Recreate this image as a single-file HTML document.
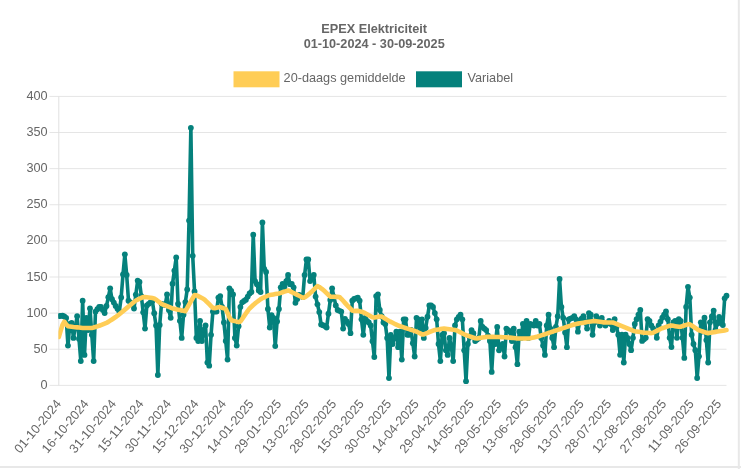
<!DOCTYPE html>
<html><head><meta charset="utf-8"><style>
html,body{margin:0;padding:0;background:#fff;}
svg{display:block;filter:blur(0.5px);font-family:"Liberation Sans",sans-serif;}
</style></head><body>
<svg width="741" height="469" viewBox="0 0 741 469">
<rect x="0" y="0" width="741" height="469" fill="#fff"/>
<line x1="0" y1="467" x2="741" y2="467" stroke="#e8e8e8" stroke-width="2"/>
<line x1="738.8" y1="0" x2="738.8" y2="469" stroke="#e8e8e8" stroke-width="2"/>
<g fill="#666" font-weight="bold" font-size="12.7" text-anchor="middle">
<text x="374.2" y="32.7">EPEX Elektriciteit</text>
<text x="374.2" y="47.8">01-10-2024 - 30-09-2025</text>
</g>
<rect x="233.5" y="71.3" width="46" height="16" fill="#ffcd56"/>
<rect x="416" y="71.3" width="46" height="16" fill="#05817c"/>
<g fill="#666" font-size="12.7">
<text x="283.6" y="82.0">20-daags gemiddelde</text>
<text x="467.5" y="82.0">Variabel</text>
</g>
<line x1="49.5" y1="96.40" x2="726.5" y2="96.40" stroke="#e5e5e5" stroke-width="1"/><line x1="49.5" y1="132.52" x2="726.5" y2="132.52" stroke="#e5e5e5" stroke-width="1"/><line x1="49.5" y1="168.64" x2="726.5" y2="168.64" stroke="#e5e5e5" stroke-width="1"/><line x1="49.5" y1="204.76" x2="726.5" y2="204.76" stroke="#e5e5e5" stroke-width="1"/><line x1="49.5" y1="240.88" x2="726.5" y2="240.88" stroke="#e5e5e5" stroke-width="1"/><line x1="49.5" y1="277.00" x2="726.5" y2="277.00" stroke="#e5e5e5" stroke-width="1"/><line x1="49.5" y1="313.12" x2="726.5" y2="313.12" stroke="#e5e5e5" stroke-width="1"/><line x1="49.5" y1="349.24" x2="726.5" y2="349.24" stroke="#e5e5e5" stroke-width="1"/><line x1="49.5" y1="385.36" x2="726.5" y2="385.36" stroke="#e5e5e5" stroke-width="1"/>
<line x1="58.8" y1="96.4" x2="58.8" y2="385.36" stroke="#e0e0e0" stroke-width="1"/>
<g fill="#666" font-size="12.7">
<text x="47.6" y="99.90" text-anchor="end">400</text><text x="47.6" y="136.02" text-anchor="end">350</text><text x="47.6" y="172.14" text-anchor="end">300</text><text x="47.6" y="208.26" text-anchor="end">250</text><text x="47.6" y="244.38" text-anchor="end">200</text><text x="47.6" y="280.50" text-anchor="end">150</text><text x="47.6" y="316.62" text-anchor="end">100</text><text x="47.6" y="352.74" text-anchor="end">50</text><text x="47.6" y="388.86" text-anchor="end">0</text>
<text transform="translate(61.80,404.20) rotate(-50)" text-anchor="end">01-10-2024</text><text transform="translate(89.32,404.20) rotate(-50)" text-anchor="end">16-10-2024</text><text transform="translate(116.83,404.20) rotate(-50)" text-anchor="end">31-10-2024</text><text transform="translate(144.35,404.20) rotate(-50)" text-anchor="end">15-11-2024</text><text transform="translate(171.86,404.20) rotate(-50)" text-anchor="end">30-11-2024</text><text transform="translate(199.38,404.20) rotate(-50)" text-anchor="end">15-12-2024</text><text transform="translate(226.89,404.20) rotate(-50)" text-anchor="end">30-12-2024</text><text transform="translate(254.41,404.20) rotate(-50)" text-anchor="end">14-01-2025</text><text transform="translate(281.92,404.20) rotate(-50)" text-anchor="end">29-01-2025</text><text transform="translate(309.44,404.20) rotate(-50)" text-anchor="end">13-02-2025</text><text transform="translate(336.95,404.20) rotate(-50)" text-anchor="end">28-02-2025</text><text transform="translate(364.47,404.20) rotate(-50)" text-anchor="end">15-03-2025</text><text transform="translate(391.98,404.20) rotate(-50)" text-anchor="end">30-03-2025</text><text transform="translate(419.50,404.20) rotate(-50)" text-anchor="end">14-04-2025</text><text transform="translate(447.01,404.20) rotate(-50)" text-anchor="end">29-04-2025</text><text transform="translate(474.53,404.20) rotate(-50)" text-anchor="end">14-05-2025</text><text transform="translate(502.04,404.20) rotate(-50)" text-anchor="end">29-05-2025</text><text transform="translate(529.56,404.20) rotate(-50)" text-anchor="end">13-06-2025</text><text transform="translate(557.07,404.20) rotate(-50)" text-anchor="end">28-06-2025</text><text transform="translate(584.59,404.20) rotate(-50)" text-anchor="end">13-07-2025</text><text transform="translate(612.10,404.20) rotate(-50)" text-anchor="end">28-07-2025</text><text transform="translate(639.62,404.20) rotate(-50)" text-anchor="end">12-08-2025</text><text transform="translate(667.13,404.20) rotate(-50)" text-anchor="end">27-08-2025</text><text transform="translate(694.65,404.20) rotate(-50)" text-anchor="end">11-09-2025</text><text transform="translate(722.16,404.20) rotate(-50)" text-anchor="end">26-09-2025</text>
</g>
<defs><clipPath id="ca"><rect x="58.4" y="0" width="700" height="469"/></clipPath></defs>
<g clip-path="url(#ca)">
<path d="M58.80 316.20 L60.63 315.90 L62.47 315.60 L64.30 316.50 L66.14 318.00 L67.97 345.60 L69.81 324.00 L71.64 323.00 L73.47 337.90 L75.31 327.05 L77.14 316.20 L78.98 338.65 L80.81 361.10 L82.65 300.70 L84.48 354.90 L86.32 317.80 L88.15 330.00 L89.98 308.50 L91.82 334.80 L93.65 361.10 L95.49 311.60 L97.32 309.25 L99.16 306.90 L100.99 306.90 L102.82 310.00 L104.66 313.10 L106.49 306.00 L108.33 297.15 L110.16 288.30 L112.00 299.20 L113.83 302.60 L115.66 306.00 L117.50 308.80 L119.33 311.60 L121.17 297.50 L123.00 274.40 L124.84 254.30 L126.67 275.00 L128.50 300.70 L130.34 302.35 L132.17 304.00 L134.01 308.50 L135.84 294.55 L137.68 280.60 L139.51 282.00 L141.35 296.10 L143.18 312.35 L145.01 328.60 L146.85 305.40 L148.68 303.85 L150.52 302.30 L152.35 301.00 L154.19 313.25 L156.02 325.50 L157.85 375.00 L159.69 325.00 L161.52 303.80 L163.36 304.40 L165.19 305.00 L167.03 294.50 L168.86 310.00 L170.69 317.80 L172.53 283.70 L174.36 270.55 L176.20 257.40 L178.03 303.80 L179.87 320.85 L181.70 337.90 L183.54 314.70 L185.37 302.05 L187.20 289.40 L189.04 220.60 L190.87 127.80 L192.71 255.80 L194.54 291.40 L196.38 337.90 L198.21 341.00 L200.04 320.90 L201.88 341.00 L203.71 330.00 L205.55 325.50 L207.38 362.60 L209.22 365.70 L211.05 334.80 L212.88 311.60 L214.72 311.60 L216.55 311.60 L218.39 297.60 L220.22 296.10 L222.06 307.00 L223.89 322.40 L225.73 341.00 L227.56 359.60 L229.39 288.30 L231.23 291.00 L233.06 294.50 L234.90 337.90 L236.73 345.60 L238.57 326.25 L240.40 306.90 L242.23 302.30 L244.07 301.00 L245.90 299.70 L247.74 296.60 L249.57 293.50 L251.41 292.00 L253.24 234.70 L255.07 281.10 L256.91 284.20 L258.74 290.40 L260.58 292.00 L262.41 222.40 L264.25 268.80 L266.08 271.90 L267.91 309.00 L269.75 327.50 L271.58 315.20 L273.42 318.00 L275.25 346.10 L277.09 321.40 L278.92 309.00 L280.76 287.30 L282.59 284.00 L284.42 287.00 L286.26 281.10 L288.09 275.00 L289.93 284.20 L291.76 284.00 L293.60 287.30 L295.43 302.80 L297.26 299.00 L299.10 295.00 L300.93 296.00 L302.77 297.00 L304.60 275.00 L306.44 259.50 L308.27 259.50 L310.10 281.10 L311.94 278.05 L313.77 275.00 L315.61 296.60 L317.44 304.35 L319.28 312.10 L321.11 324.40 L322.95 325.20 L324.78 326.00 L326.61 327.50 L328.45 313.75 L330.28 300.00 L332.12 288.30 L333.95 296.85 L335.79 305.40 L337.62 310.00 L339.45 310.80 L341.29 311.60 L343.12 328.60 L344.96 319.00 L346.79 321.50 L348.63 324.00 L350.46 333.20 L352.29 300.70 L354.13 299.00 L355.96 298.30 L357.80 297.60 L359.63 300.70 L361.47 319.30 L363.30 334.80 L365.13 317.80 L366.97 320.90 L368.80 322.40 L370.64 325.50 L372.47 341.25 L374.31 357.00 L376.14 296.10 L377.98 294.50 L379.81 310.00 L381.64 316.20 L383.48 322.40 L385.31 324.00 L387.15 337.90 L388.98 378.10 L390.82 334.80 L392.65 344.00 L394.48 337.85 L396.32 331.70 L398.15 347.20 L399.99 331.70 L401.82 359.60 L403.66 319.30 L405.49 319.30 L407.32 334.80 L409.16 334.80 L410.99 330.00 L412.83 343.25 L414.66 356.50 L416.50 317.80 L418.33 319.30 L420.17 331.70 L422.00 319.30 L423.83 337.90 L425.67 328.00 L427.50 316.70 L429.34 305.40 L431.17 305.40 L433.01 307.00 L434.84 313.10 L436.67 319.30 L438.51 344.00 L440.34 361.10 L442.18 334.80 L444.01 333.20 L445.85 350.30 L447.68 354.90 L449.51 337.90 L451.35 347.20 L453.18 361.10 L455.02 325.50 L456.85 319.30 L458.69 317.00 L460.52 314.70 L462.35 319.30 L464.19 350.30 L466.02 381.20 L467.86 344.00 L469.69 337.05 L471.53 330.10 L473.36 333.20 L475.20 341.00 L477.03 339.45 L478.86 337.90 L480.70 320.90 L482.53 327.00 L484.37 328.60 L486.20 330.10 L488.04 335.55 L489.87 341.00 L491.70 371.90 L493.54 341.00 L495.37 344.00 L497.21 327.00 L499.04 350.30 L500.88 347.15 L502.71 344.00 L504.54 356.50 L506.38 328.60 L508.21 330.15 L510.05 331.70 L511.88 341.00 L513.72 328.60 L515.55 347.20 L517.39 364.20 L519.22 331.70 L521.05 337.90 L522.89 324.00 L524.72 334.80 L526.56 320.90 L528.39 337.90 L530.23 324.00 L532.06 324.75 L533.89 325.50 L535.73 320.90 L537.56 325.50 L539.40 324.00 L541.23 337.90 L543.07 345.60 L544.90 354.90 L546.73 325.50 L548.57 314.70 L550.40 328.60 L552.24 337.90 L554.07 347.20 L555.91 327.00 L557.74 316.20 L559.58 279.00 L561.41 306.90 L563.24 317.80 L565.08 332.50 L566.91 347.20 L568.75 319.30 L570.58 318.55 L572.42 317.80 L574.25 316.20 L576.08 319.30 L577.92 331.70 L579.75 320.90 L581.59 318.55 L583.42 316.20 L585.26 322.40 L587.09 328.60 L588.92 313.10 L590.76 314.70 L592.59 334.80 L594.43 322.40 L596.26 316.20 L598.10 319.30 L599.93 325.50 L601.76 317.80 L603.60 322.40 L605.43 325.50 L607.27 323.20 L609.10 320.90 L610.94 324.00 L612.77 330.10 L614.61 319.20 L616.44 326.95 L618.27 334.70 L620.11 354.80 L621.94 334.70 L623.78 362.50 L625.61 334.70 L627.45 337.80 L629.28 344.00 L631.11 350.20 L632.95 337.80 L634.78 323.90 L636.62 319.20 L638.45 314.60 L640.29 310.00 L642.12 340.90 L643.95 339.35 L645.79 337.80 L647.62 319.20 L649.46 320.80 L651.29 325.40 L653.13 328.50 L654.96 331.60 L656.80 337.80 L658.63 325.40 L660.46 321.55 L662.30 317.70 L664.13 314.60 L665.97 311.50 L667.80 319.20 L669.64 337.80 L671.47 347.10 L673.30 322.30 L675.14 320.80 L676.97 337.80 L678.81 319.20 L680.64 320.80 L682.48 337.80 L684.31 357.90 L686.14 306.90 L687.98 286.80 L689.81 297.60 L691.65 334.70 L693.48 344.00 L695.32 350.20 L697.15 378.00 L698.98 356.30 L700.82 322.30 L702.65 331.60 L704.49 317.70 L706.32 340.10 L708.16 362.50 L709.99 322.30 L711.83 316.45 L713.66 310.60 L715.49 330.00 L717.33 323.50 L719.16 317.00 L721.00 323.00 L722.83 325.00 L724.67 298.30 L726.50 295.70" fill="none" stroke="#05817c" stroke-width="3.6" stroke-linejoin="round"/>
<g fill="#05817c"><circle cx="58.80" cy="316.20" r="2.9"/><circle cx="60.63" cy="315.90" r="2.9"/><circle cx="62.47" cy="315.60" r="2.9"/><circle cx="64.30" cy="316.50" r="2.9"/><circle cx="66.14" cy="318.00" r="2.9"/><circle cx="67.97" cy="345.60" r="2.9"/><circle cx="69.81" cy="324.00" r="2.9"/><circle cx="71.64" cy="323.00" r="2.9"/><circle cx="73.47" cy="337.90" r="2.9"/><circle cx="75.31" cy="327.05" r="2.9"/><circle cx="77.14" cy="316.20" r="2.9"/><circle cx="78.98" cy="338.65" r="2.9"/><circle cx="80.81" cy="361.10" r="2.9"/><circle cx="82.65" cy="300.70" r="2.9"/><circle cx="84.48" cy="354.90" r="2.9"/><circle cx="86.32" cy="317.80" r="2.9"/><circle cx="88.15" cy="330.00" r="2.9"/><circle cx="89.98" cy="308.50" r="2.9"/><circle cx="91.82" cy="334.80" r="2.9"/><circle cx="93.65" cy="361.10" r="2.9"/><circle cx="95.49" cy="311.60" r="2.9"/><circle cx="97.32" cy="309.25" r="2.9"/><circle cx="99.16" cy="306.90" r="2.9"/><circle cx="100.99" cy="306.90" r="2.9"/><circle cx="102.82" cy="310.00" r="2.9"/><circle cx="104.66" cy="313.10" r="2.9"/><circle cx="106.49" cy="306.00" r="2.9"/><circle cx="108.33" cy="297.15" r="2.9"/><circle cx="110.16" cy="288.30" r="2.9"/><circle cx="112.00" cy="299.20" r="2.9"/><circle cx="113.83" cy="302.60" r="2.9"/><circle cx="115.66" cy="306.00" r="2.9"/><circle cx="117.50" cy="308.80" r="2.9"/><circle cx="119.33" cy="311.60" r="2.9"/><circle cx="121.17" cy="297.50" r="2.9"/><circle cx="123.00" cy="274.40" r="2.9"/><circle cx="124.84" cy="254.30" r="2.9"/><circle cx="126.67" cy="275.00" r="2.9"/><circle cx="128.50" cy="300.70" r="2.9"/><circle cx="130.34" cy="302.35" r="2.9"/><circle cx="132.17" cy="304.00" r="2.9"/><circle cx="134.01" cy="308.50" r="2.9"/><circle cx="135.84" cy="294.55" r="2.9"/><circle cx="137.68" cy="280.60" r="2.9"/><circle cx="139.51" cy="282.00" r="2.9"/><circle cx="141.35" cy="296.10" r="2.9"/><circle cx="143.18" cy="312.35" r="2.9"/><circle cx="145.01" cy="328.60" r="2.9"/><circle cx="146.85" cy="305.40" r="2.9"/><circle cx="148.68" cy="303.85" r="2.9"/><circle cx="150.52" cy="302.30" r="2.9"/><circle cx="152.35" cy="301.00" r="2.9"/><circle cx="154.19" cy="313.25" r="2.9"/><circle cx="156.02" cy="325.50" r="2.9"/><circle cx="157.85" cy="375.00" r="2.9"/><circle cx="159.69" cy="325.00" r="2.9"/><circle cx="161.52" cy="303.80" r="2.9"/><circle cx="163.36" cy="304.40" r="2.9"/><circle cx="165.19" cy="305.00" r="2.9"/><circle cx="167.03" cy="294.50" r="2.9"/><circle cx="168.86" cy="310.00" r="2.9"/><circle cx="170.69" cy="317.80" r="2.9"/><circle cx="172.53" cy="283.70" r="2.9"/><circle cx="174.36" cy="270.55" r="2.9"/><circle cx="176.20" cy="257.40" r="2.9"/><circle cx="178.03" cy="303.80" r="2.9"/><circle cx="179.87" cy="320.85" r="2.9"/><circle cx="181.70" cy="337.90" r="2.9"/><circle cx="183.54" cy="314.70" r="2.9"/><circle cx="185.37" cy="302.05" r="2.9"/><circle cx="187.20" cy="289.40" r="2.9"/><circle cx="189.04" cy="220.60" r="2.9"/><circle cx="190.87" cy="127.80" r="2.9"/><circle cx="192.71" cy="255.80" r="2.9"/><circle cx="194.54" cy="291.40" r="2.9"/><circle cx="196.38" cy="337.90" r="2.9"/><circle cx="198.21" cy="341.00" r="2.9"/><circle cx="200.04" cy="320.90" r="2.9"/><circle cx="201.88" cy="341.00" r="2.9"/><circle cx="203.71" cy="330.00" r="2.9"/><circle cx="205.55" cy="325.50" r="2.9"/><circle cx="207.38" cy="362.60" r="2.9"/><circle cx="209.22" cy="365.70" r="2.9"/><circle cx="211.05" cy="334.80" r="2.9"/><circle cx="212.88" cy="311.60" r="2.9"/><circle cx="214.72" cy="311.60" r="2.9"/><circle cx="216.55" cy="311.60" r="2.9"/><circle cx="218.39" cy="297.60" r="2.9"/><circle cx="220.22" cy="296.10" r="2.9"/><circle cx="222.06" cy="307.00" r="2.9"/><circle cx="223.89" cy="322.40" r="2.9"/><circle cx="225.73" cy="341.00" r="2.9"/><circle cx="227.56" cy="359.60" r="2.9"/><circle cx="229.39" cy="288.30" r="2.9"/><circle cx="231.23" cy="291.00" r="2.9"/><circle cx="233.06" cy="294.50" r="2.9"/><circle cx="234.90" cy="337.90" r="2.9"/><circle cx="236.73" cy="345.60" r="2.9"/><circle cx="238.57" cy="326.25" r="2.9"/><circle cx="240.40" cy="306.90" r="2.9"/><circle cx="242.23" cy="302.30" r="2.9"/><circle cx="244.07" cy="301.00" r="2.9"/><circle cx="245.90" cy="299.70" r="2.9"/><circle cx="247.74" cy="296.60" r="2.9"/><circle cx="249.57" cy="293.50" r="2.9"/><circle cx="251.41" cy="292.00" r="2.9"/><circle cx="253.24" cy="234.70" r="2.9"/><circle cx="255.07" cy="281.10" r="2.9"/><circle cx="256.91" cy="284.20" r="2.9"/><circle cx="258.74" cy="290.40" r="2.9"/><circle cx="260.58" cy="292.00" r="2.9"/><circle cx="262.41" cy="222.40" r="2.9"/><circle cx="264.25" cy="268.80" r="2.9"/><circle cx="266.08" cy="271.90" r="2.9"/><circle cx="267.91" cy="309.00" r="2.9"/><circle cx="269.75" cy="327.50" r="2.9"/><circle cx="271.58" cy="315.20" r="2.9"/><circle cx="273.42" cy="318.00" r="2.9"/><circle cx="275.25" cy="346.10" r="2.9"/><circle cx="277.09" cy="321.40" r="2.9"/><circle cx="278.92" cy="309.00" r="2.9"/><circle cx="280.76" cy="287.30" r="2.9"/><circle cx="282.59" cy="284.00" r="2.9"/><circle cx="284.42" cy="287.00" r="2.9"/><circle cx="286.26" cy="281.10" r="2.9"/><circle cx="288.09" cy="275.00" r="2.9"/><circle cx="289.93" cy="284.20" r="2.9"/><circle cx="291.76" cy="284.00" r="2.9"/><circle cx="293.60" cy="287.30" r="2.9"/><circle cx="295.43" cy="302.80" r="2.9"/><circle cx="297.26" cy="299.00" r="2.9"/><circle cx="299.10" cy="295.00" r="2.9"/><circle cx="300.93" cy="296.00" r="2.9"/><circle cx="302.77" cy="297.00" r="2.9"/><circle cx="304.60" cy="275.00" r="2.9"/><circle cx="306.44" cy="259.50" r="2.9"/><circle cx="308.27" cy="259.50" r="2.9"/><circle cx="310.10" cy="281.10" r="2.9"/><circle cx="311.94" cy="278.05" r="2.9"/><circle cx="313.77" cy="275.00" r="2.9"/><circle cx="315.61" cy="296.60" r="2.9"/><circle cx="317.44" cy="304.35" r="2.9"/><circle cx="319.28" cy="312.10" r="2.9"/><circle cx="321.11" cy="324.40" r="2.9"/><circle cx="322.95" cy="325.20" r="2.9"/><circle cx="324.78" cy="326.00" r="2.9"/><circle cx="326.61" cy="327.50" r="2.9"/><circle cx="328.45" cy="313.75" r="2.9"/><circle cx="330.28" cy="300.00" r="2.9"/><circle cx="332.12" cy="288.30" r="2.9"/><circle cx="333.95" cy="296.85" r="2.9"/><circle cx="335.79" cy="305.40" r="2.9"/><circle cx="337.62" cy="310.00" r="2.9"/><circle cx="339.45" cy="310.80" r="2.9"/><circle cx="341.29" cy="311.60" r="2.9"/><circle cx="343.12" cy="328.60" r="2.9"/><circle cx="344.96" cy="319.00" r="2.9"/><circle cx="346.79" cy="321.50" r="2.9"/><circle cx="348.63" cy="324.00" r="2.9"/><circle cx="350.46" cy="333.20" r="2.9"/><circle cx="352.29" cy="300.70" r="2.9"/><circle cx="354.13" cy="299.00" r="2.9"/><circle cx="355.96" cy="298.30" r="2.9"/><circle cx="357.80" cy="297.60" r="2.9"/><circle cx="359.63" cy="300.70" r="2.9"/><circle cx="361.47" cy="319.30" r="2.9"/><circle cx="363.30" cy="334.80" r="2.9"/><circle cx="365.13" cy="317.80" r="2.9"/><circle cx="366.97" cy="320.90" r="2.9"/><circle cx="368.80" cy="322.40" r="2.9"/><circle cx="370.64" cy="325.50" r="2.9"/><circle cx="372.47" cy="341.25" r="2.9"/><circle cx="374.31" cy="357.00" r="2.9"/><circle cx="376.14" cy="296.10" r="2.9"/><circle cx="377.98" cy="294.50" r="2.9"/><circle cx="379.81" cy="310.00" r="2.9"/><circle cx="381.64" cy="316.20" r="2.9"/><circle cx="383.48" cy="322.40" r="2.9"/><circle cx="385.31" cy="324.00" r="2.9"/><circle cx="387.15" cy="337.90" r="2.9"/><circle cx="388.98" cy="378.10" r="2.9"/><circle cx="390.82" cy="334.80" r="2.9"/><circle cx="392.65" cy="344.00" r="2.9"/><circle cx="394.48" cy="337.85" r="2.9"/><circle cx="396.32" cy="331.70" r="2.9"/><circle cx="398.15" cy="347.20" r="2.9"/><circle cx="399.99" cy="331.70" r="2.9"/><circle cx="401.82" cy="359.60" r="2.9"/><circle cx="403.66" cy="319.30" r="2.9"/><circle cx="405.49" cy="319.30" r="2.9"/><circle cx="407.32" cy="334.80" r="2.9"/><circle cx="409.16" cy="334.80" r="2.9"/><circle cx="410.99" cy="330.00" r="2.9"/><circle cx="412.83" cy="343.25" r="2.9"/><circle cx="414.66" cy="356.50" r="2.9"/><circle cx="416.50" cy="317.80" r="2.9"/><circle cx="418.33" cy="319.30" r="2.9"/><circle cx="420.17" cy="331.70" r="2.9"/><circle cx="422.00" cy="319.30" r="2.9"/><circle cx="423.83" cy="337.90" r="2.9"/><circle cx="425.67" cy="328.00" r="2.9"/><circle cx="427.50" cy="316.70" r="2.9"/><circle cx="429.34" cy="305.40" r="2.9"/><circle cx="431.17" cy="305.40" r="2.9"/><circle cx="433.01" cy="307.00" r="2.9"/><circle cx="434.84" cy="313.10" r="2.9"/><circle cx="436.67" cy="319.30" r="2.9"/><circle cx="438.51" cy="344.00" r="2.9"/><circle cx="440.34" cy="361.10" r="2.9"/><circle cx="442.18" cy="334.80" r="2.9"/><circle cx="444.01" cy="333.20" r="2.9"/><circle cx="445.85" cy="350.30" r="2.9"/><circle cx="447.68" cy="354.90" r="2.9"/><circle cx="449.51" cy="337.90" r="2.9"/><circle cx="451.35" cy="347.20" r="2.9"/><circle cx="453.18" cy="361.10" r="2.9"/><circle cx="455.02" cy="325.50" r="2.9"/><circle cx="456.85" cy="319.30" r="2.9"/><circle cx="458.69" cy="317.00" r="2.9"/><circle cx="460.52" cy="314.70" r="2.9"/><circle cx="462.35" cy="319.30" r="2.9"/><circle cx="464.19" cy="350.30" r="2.9"/><circle cx="466.02" cy="381.20" r="2.9"/><circle cx="467.86" cy="344.00" r="2.9"/><circle cx="469.69" cy="337.05" r="2.9"/><circle cx="471.53" cy="330.10" r="2.9"/><circle cx="473.36" cy="333.20" r="2.9"/><circle cx="475.20" cy="341.00" r="2.9"/><circle cx="477.03" cy="339.45" r="2.9"/><circle cx="478.86" cy="337.90" r="2.9"/><circle cx="480.70" cy="320.90" r="2.9"/><circle cx="482.53" cy="327.00" r="2.9"/><circle cx="484.37" cy="328.60" r="2.9"/><circle cx="486.20" cy="330.10" r="2.9"/><circle cx="488.04" cy="335.55" r="2.9"/><circle cx="489.87" cy="341.00" r="2.9"/><circle cx="491.70" cy="371.90" r="2.9"/><circle cx="493.54" cy="341.00" r="2.9"/><circle cx="495.37" cy="344.00" r="2.9"/><circle cx="497.21" cy="327.00" r="2.9"/><circle cx="499.04" cy="350.30" r="2.9"/><circle cx="500.88" cy="347.15" r="2.9"/><circle cx="502.71" cy="344.00" r="2.9"/><circle cx="504.54" cy="356.50" r="2.9"/><circle cx="506.38" cy="328.60" r="2.9"/><circle cx="508.21" cy="330.15" r="2.9"/><circle cx="510.05" cy="331.70" r="2.9"/><circle cx="511.88" cy="341.00" r="2.9"/><circle cx="513.72" cy="328.60" r="2.9"/><circle cx="515.55" cy="347.20" r="2.9"/><circle cx="517.39" cy="364.20" r="2.9"/><circle cx="519.22" cy="331.70" r="2.9"/><circle cx="521.05" cy="337.90" r="2.9"/><circle cx="522.89" cy="324.00" r="2.9"/><circle cx="524.72" cy="334.80" r="2.9"/><circle cx="526.56" cy="320.90" r="2.9"/><circle cx="528.39" cy="337.90" r="2.9"/><circle cx="530.23" cy="324.00" r="2.9"/><circle cx="532.06" cy="324.75" r="2.9"/><circle cx="533.89" cy="325.50" r="2.9"/><circle cx="535.73" cy="320.90" r="2.9"/><circle cx="537.56" cy="325.50" r="2.9"/><circle cx="539.40" cy="324.00" r="2.9"/><circle cx="541.23" cy="337.90" r="2.9"/><circle cx="543.07" cy="345.60" r="2.9"/><circle cx="544.90" cy="354.90" r="2.9"/><circle cx="546.73" cy="325.50" r="2.9"/><circle cx="548.57" cy="314.70" r="2.9"/><circle cx="550.40" cy="328.60" r="2.9"/><circle cx="552.24" cy="337.90" r="2.9"/><circle cx="554.07" cy="347.20" r="2.9"/><circle cx="555.91" cy="327.00" r="2.9"/><circle cx="557.74" cy="316.20" r="2.9"/><circle cx="559.58" cy="279.00" r="2.9"/><circle cx="561.41" cy="306.90" r="2.9"/><circle cx="563.24" cy="317.80" r="2.9"/><circle cx="565.08" cy="332.50" r="2.9"/><circle cx="566.91" cy="347.20" r="2.9"/><circle cx="568.75" cy="319.30" r="2.9"/><circle cx="570.58" cy="318.55" r="2.9"/><circle cx="572.42" cy="317.80" r="2.9"/><circle cx="574.25" cy="316.20" r="2.9"/><circle cx="576.08" cy="319.30" r="2.9"/><circle cx="577.92" cy="331.70" r="2.9"/><circle cx="579.75" cy="320.90" r="2.9"/><circle cx="581.59" cy="318.55" r="2.9"/><circle cx="583.42" cy="316.20" r="2.9"/><circle cx="585.26" cy="322.40" r="2.9"/><circle cx="587.09" cy="328.60" r="2.9"/><circle cx="588.92" cy="313.10" r="2.9"/><circle cx="590.76" cy="314.70" r="2.9"/><circle cx="592.59" cy="334.80" r="2.9"/><circle cx="594.43" cy="322.40" r="2.9"/><circle cx="596.26" cy="316.20" r="2.9"/><circle cx="598.10" cy="319.30" r="2.9"/><circle cx="599.93" cy="325.50" r="2.9"/><circle cx="601.76" cy="317.80" r="2.9"/><circle cx="603.60" cy="322.40" r="2.9"/><circle cx="605.43" cy="325.50" r="2.9"/><circle cx="607.27" cy="323.20" r="2.9"/><circle cx="609.10" cy="320.90" r="2.9"/><circle cx="610.94" cy="324.00" r="2.9"/><circle cx="612.77" cy="330.10" r="2.9"/><circle cx="614.61" cy="319.20" r="2.9"/><circle cx="616.44" cy="326.95" r="2.9"/><circle cx="618.27" cy="334.70" r="2.9"/><circle cx="620.11" cy="354.80" r="2.9"/><circle cx="621.94" cy="334.70" r="2.9"/><circle cx="623.78" cy="362.50" r="2.9"/><circle cx="625.61" cy="334.70" r="2.9"/><circle cx="627.45" cy="337.80" r="2.9"/><circle cx="629.28" cy="344.00" r="2.9"/><circle cx="631.11" cy="350.20" r="2.9"/><circle cx="632.95" cy="337.80" r="2.9"/><circle cx="634.78" cy="323.90" r="2.9"/><circle cx="636.62" cy="319.20" r="2.9"/><circle cx="638.45" cy="314.60" r="2.9"/><circle cx="640.29" cy="310.00" r="2.9"/><circle cx="642.12" cy="340.90" r="2.9"/><circle cx="643.95" cy="339.35" r="2.9"/><circle cx="645.79" cy="337.80" r="2.9"/><circle cx="647.62" cy="319.20" r="2.9"/><circle cx="649.46" cy="320.80" r="2.9"/><circle cx="651.29" cy="325.40" r="2.9"/><circle cx="653.13" cy="328.50" r="2.9"/><circle cx="654.96" cy="331.60" r="2.9"/><circle cx="656.80" cy="337.80" r="2.9"/><circle cx="658.63" cy="325.40" r="2.9"/><circle cx="660.46" cy="321.55" r="2.9"/><circle cx="662.30" cy="317.70" r="2.9"/><circle cx="664.13" cy="314.60" r="2.9"/><circle cx="665.97" cy="311.50" r="2.9"/><circle cx="667.80" cy="319.20" r="2.9"/><circle cx="669.64" cy="337.80" r="2.9"/><circle cx="671.47" cy="347.10" r="2.9"/><circle cx="673.30" cy="322.30" r="2.9"/><circle cx="675.14" cy="320.80" r="2.9"/><circle cx="676.97" cy="337.80" r="2.9"/><circle cx="678.81" cy="319.20" r="2.9"/><circle cx="680.64" cy="320.80" r="2.9"/><circle cx="682.48" cy="337.80" r="2.9"/><circle cx="684.31" cy="357.90" r="2.9"/><circle cx="686.14" cy="306.90" r="2.9"/><circle cx="687.98" cy="286.80" r="2.9"/><circle cx="689.81" cy="297.60" r="2.9"/><circle cx="691.65" cy="334.70" r="2.9"/><circle cx="693.48" cy="344.00" r="2.9"/><circle cx="695.32" cy="350.20" r="2.9"/><circle cx="697.15" cy="378.00" r="2.9"/><circle cx="698.98" cy="356.30" r="2.9"/><circle cx="700.82" cy="322.30" r="2.9"/><circle cx="702.65" cy="331.60" r="2.9"/><circle cx="704.49" cy="317.70" r="2.9"/><circle cx="706.32" cy="340.10" r="2.9"/><circle cx="708.16" cy="362.50" r="2.9"/><circle cx="709.99" cy="322.30" r="2.9"/><circle cx="711.83" cy="316.45" r="2.9"/><circle cx="713.66" cy="310.60" r="2.9"/><circle cx="715.49" cy="330.00" r="2.9"/><circle cx="717.33" cy="323.50" r="2.9"/><circle cx="719.16" cy="317.00" r="2.9"/><circle cx="721.00" cy="323.00" r="2.9"/><circle cx="722.83" cy="325.00" r="2.9"/><circle cx="724.67" cy="298.30" r="2.9"/><circle cx="726.50" cy="295.70" r="2.9"/></g>
<path d="M58.80 336.97 L60.63 330.92 L62.47 324.86 L64.30 321.66 L66.14 324.29 L67.97 326.18 L69.81 326.45 L71.64 326.72 L73.47 326.98 L75.31 327.18 L77.14 327.38 L78.98 327.58 L80.81 327.78 L82.65 327.97 L84.48 328.00 L86.32 328.00 L88.15 328.00 L89.98 328.00 L91.82 328.00 L93.65 327.55 L95.49 326.98 L97.32 326.40 L99.16 325.76 L100.99 325.03 L102.82 324.30 L104.66 323.57 L106.49 322.84 L108.33 321.92 L110.16 320.69 L112.00 319.47 L113.83 318.25 L115.66 317.02 L117.50 315.70 L119.33 314.19 L121.17 312.67 L123.00 311.15 L124.84 309.63 L126.67 308.11 L128.50 306.57 L130.34 305.03 L132.17 303.49 L134.01 301.95 L135.84 300.54 L137.68 299.65 L139.51 298.77 L141.35 297.89 L143.18 297.01 L145.01 297.16 L146.85 297.32 L148.68 297.48 L150.52 297.70 L152.35 298.07 L154.19 298.44 L156.02 299.66 L157.85 301.05 L159.69 302.44 L161.52 303.84 L163.36 304.75 L165.19 305.49 L167.03 306.24 L168.86 306.98 L170.69 307.73 L172.53 308.47 L174.36 308.87 L176.20 309.26 L178.03 309.65 L179.87 310.03 L181.70 310.42 L183.54 310.81 L185.37 311.19 L187.20 307.95 L189.04 304.64 L190.87 301.37 L192.71 298.24 L194.54 295.11 L196.38 295.25 L198.21 296.17 L200.04 297.10 L201.88 298.03 L203.71 298.95 L205.55 300.55 L207.38 302.38 L209.22 304.22 L211.05 306.05 L212.88 307.88 L214.72 308.19 L216.55 307.71 L218.39 307.24 L220.22 307.08 L222.06 307.70 L223.89 308.32 L225.73 308.94 L227.56 312.97 L229.39 317.35 L231.23 320.19 L233.06 320.66 L234.90 321.13 L236.73 321.61 L238.57 322.08 L240.40 321.53 L242.23 318.85 L244.07 316.18 L245.90 313.51 L247.74 310.84 L249.57 308.46 L251.41 306.73 L253.24 305.00 L255.07 303.42 L256.91 302.03 L258.74 300.65 L260.58 299.27 L262.41 298.03 L264.25 297.27 L266.08 296.50 L267.91 295.74 L269.75 294.99 L271.58 294.70 L273.42 294.40 L275.25 294.10 L277.09 293.81 L278.92 293.51 L280.76 292.91 L282.59 292.30 L284.42 291.69 L286.26 291.08 L288.09 290.47 L289.93 291.20 L291.76 292.11 L293.60 293.02 L295.43 293.93 L297.26 294.83 L299.10 295.77 L300.93 296.72 L302.77 297.67 L304.60 297.55 L306.44 296.08 L308.27 294.60 L310.10 293.12 L311.94 291.56 L313.77 289.73 L315.61 287.89 L317.44 286.06 L319.28 286.97 L321.11 288.33 L322.95 289.69 L324.78 291.28 L326.61 293.11 L328.45 294.95 L330.28 296.61 L332.12 296.68 L333.95 296.76 L335.79 296.84 L337.62 296.91 L339.45 296.99 L341.29 298.78 L343.12 300.84 L344.96 302.90 L346.79 304.91 L348.63 306.80 L350.46 308.69 L352.29 310.58 L354.13 310.95 L355.96 310.87 L357.80 310.80 L359.63 311.28 L361.47 311.79 L363.30 312.31 L365.13 313.15 L366.97 314.19 L368.80 315.24 L370.64 316.28 L372.47 317.33 L374.31 317.59 L376.14 317.22 L377.98 316.84 L379.81 316.46 L381.64 316.53 L383.48 317.65 L385.31 318.77 L387.15 319.89 L388.98 320.99 L390.82 321.90 L392.65 322.80 L394.48 323.71 L396.32 324.62 L398.15 325.52 L399.99 326.13 L401.82 326.74 L403.66 327.35 L405.49 327.96 L407.32 328.57 L409.16 329.19 L410.99 329.80 L412.83 330.41 L414.66 331.02 L416.50 331.63 L418.33 332.52 L420.17 333.43 L422.00 334.35 L423.83 334.42 L425.67 333.66 L427.50 332.90 L429.34 332.15 L431.17 331.39 L433.01 330.63 L434.84 330.01 L436.67 329.72 L438.51 329.42 L440.34 329.13 L442.18 328.83 L444.01 328.65 L445.85 328.87 L447.68 329.09 L449.51 329.32 L451.35 329.54 L453.18 329.76 L455.02 329.98 L456.85 330.54 L458.69 331.47 L460.52 332.41 L462.35 333.35 L464.19 334.28 L466.02 335.09 L467.86 335.73 L469.69 336.37 L471.53 337.01 L473.36 337.65 L475.20 338.28 L477.03 338.45 L478.86 338.14 L480.70 337.83 L482.53 337.53 L484.37 337.22 L486.20 336.92 L488.04 336.82 L489.87 336.85 L491.70 336.88 L493.54 336.91 L495.37 336.94 L497.21 336.97 L499.04 337.00 L500.88 337.08 L502.71 337.18 L504.54 337.28 L506.38 337.38 L508.21 337.48 L510.05 337.66 L511.88 337.85 L513.72 338.05 L515.55 338.25 L517.39 338.44 L519.22 338.50 L521.05 338.50 L522.89 338.50 L524.72 338.50 L526.56 338.50 L528.39 338.50 L530.23 338.28 L532.06 337.85 L533.89 337.41 L535.73 336.98 L537.56 336.55 L539.40 336.03 L541.23 335.42 L543.07 334.81 L544.90 334.20 L546.73 333.59 L548.57 332.98 L550.40 332.37 L552.24 331.75 L554.07 331.14 L555.91 330.53 L557.74 329.92 L559.58 329.30 L561.41 328.68 L563.24 328.06 L565.08 327.45 L566.91 326.83 L568.75 326.24 L570.58 325.65 L572.42 325.06 L574.25 324.47 L576.08 323.93 L577.92 323.62 L579.75 323.30 L581.59 322.99 L583.42 322.67 L585.26 322.36 L587.09 322.06 L588.92 321.77 L590.76 321.47 L592.59 321.18 L594.43 320.92 L596.26 321.22 L598.10 321.51 L599.93 321.81 L601.76 322.10 L603.60 322.40 L605.43 322.42 L607.27 322.44 L609.10 322.46 L610.94 322.48 L612.77 322.50 L614.61 323.17 L616.44 323.90 L618.27 324.62 L620.11 325.35 L621.94 326.07 L623.78 326.79 L625.61 327.56 L627.45 328.35 L629.28 329.14 L631.11 329.93 L632.95 330.72 L634.78 331.19 L636.62 331.49 L638.45 331.79 L640.29 332.09 L642.12 332.39 L643.95 332.59 L645.79 332.72 L647.62 332.86 L649.46 333.00 L651.29 333.14 L653.13 332.68 L654.96 331.75 L656.80 330.83 L658.63 329.90 L660.46 328.97 L662.30 328.20 L664.13 327.59 L665.97 326.98 L667.80 326.37 L669.64 325.75 L671.47 325.53 L673.30 325.85 L675.14 326.16 L676.97 326.48 L678.81 326.79 L680.64 326.78 L682.48 326.17 L684.31 325.55 L686.14 324.93 L687.98 324.31 L689.81 324.31 L691.65 325.53 L693.48 326.75 L695.32 327.98 L697.15 329.20 L698.98 330.26 L700.82 330.87 L702.65 331.48 L704.49 332.10 L706.32 332.71 L708.16 333.14 L709.99 332.82 L711.83 332.51 L713.66 332.19 L715.49 331.88 L717.33 331.56 L719.16 331.27 L721.00 330.97 L722.83 330.68 L724.67 330.38 L726.50 330.10" fill="none" stroke="#ffcd56" stroke-width="4.6" stroke-linejoin="round" stroke-linecap="round"/>
</g>
</svg>
</body></html>
